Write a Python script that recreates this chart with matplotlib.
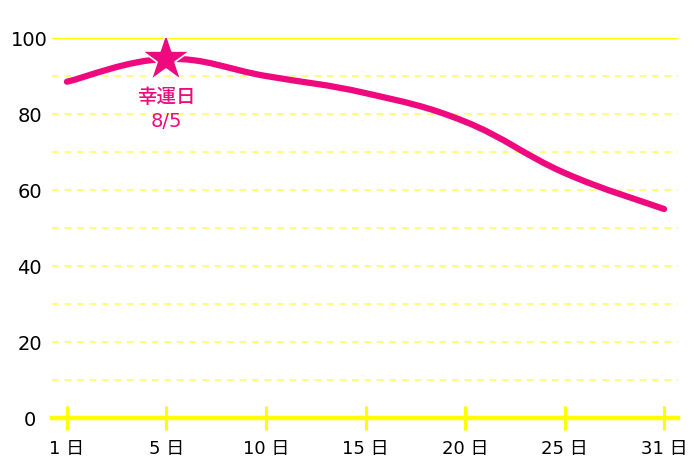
import matplotlib.pyplot as plt
from matplotlib.path import Path
from matplotlib.patches import PathPatch

plt.rcParams['font.family'] = ['DejaVu Sans', 'Noto Sans CJK JP']

days = ['1 日', '5 日', '10 日', '15 日', '20 日', '25 日', '31 日']
values = [88.5, 94.5, 90.0, 85.5, 78.0, 64.5, 55.0]
lucky_idx = 1
lucky_text = '幸運日\n8/5'
y_ticks = [0, 20, 40, 60, 80, 100]

pink = '#ee0a7e'
yellow = '#ffff00'


def smooth_path(xs, ys, t=0.2):
    # catmull-rom style bezier through the points
    verts = [(xs[0], ys[0])]
    codes = [Path.MOVETO]
    n = len(xs)
    for i in range(n - 1):
        x0, y0 = (xs[i - 1], ys[i - 1]) if i > 0 else (xs[i], ys[i])
        x1, y1 = xs[i], ys[i]
        x2, y2 = xs[i + 1], ys[i + 1]
        x3, y3 = (xs[i + 2], ys[i + 2]) if i + 2 < n else (x2, y2)
        c1 = (x1 + (x2 - x0) * t, y1 + (y2 - y0) * t)
        c2 = (x2 - (x3 - x1) * t, y2 - (y3 - y1) * t)
        verts += [c1, c2, (x2, y2)]
        codes += [Path.CURVE4] * 3
    return Path(verts, codes)


fig = plt.figure(figsize=(7, 4.67), dpi=100)
ax = fig.add_axes([0.0743, 0.1049, 0.8943, 0.8137])

x = list(range(len(days)))
ax.set_xlim(-0.15, 6.14)
ax.set_ylim(0, 100)

for v in range(10, 100, 10):
    ax.axhline(v, color='#ffff66', lw=1.2, ls=(0, (4, 3.5)), zorder=1)
ax.axhline(100, color=yellow, lw=1.6, zorder=1)
ax.axhline(0, color=yellow, lw=3.2, zorder=2, clip_on=False)

ax.add_patch(PathPatch(smooth_path(x, values), fill=False, ec=pink, lw=4.5,
                       capstyle='round', joinstyle='round', zorder=3))
ax.plot(x[lucky_idx], values[lucky_idx], marker='*', ms=37, color=pink,
        mec='white', mew=1.2, zorder=4)
ax.annotate(lucky_text, (x[lucky_idx], values[lucky_idx]), xytext=(0, -21),
            textcoords='offset points', ha='center', va='top', color=pink,
            fontsize=14, fontweight='medium', linespacing=1.3,
            family=['DejaVu Sans', 'Noto Sans CJK JP'])

for s in ax.spines.values():
    s.set_visible(False)

ax.set_xticks(x)
ax.set_xticklabels(days, fontsize=13)
ax.tick_params(axis='x', direction='inout', length=17, width=2.2,
               color=yellow, pad=7)
ax.set_yticks(y_ticks)
ax.set_yticklabels([str(v) for v in y_ticks], fontsize=14, ha='center')
ax.tick_params(axis='y', length=0, pad=16)

fig.savefig('out.png', dpi=100)
